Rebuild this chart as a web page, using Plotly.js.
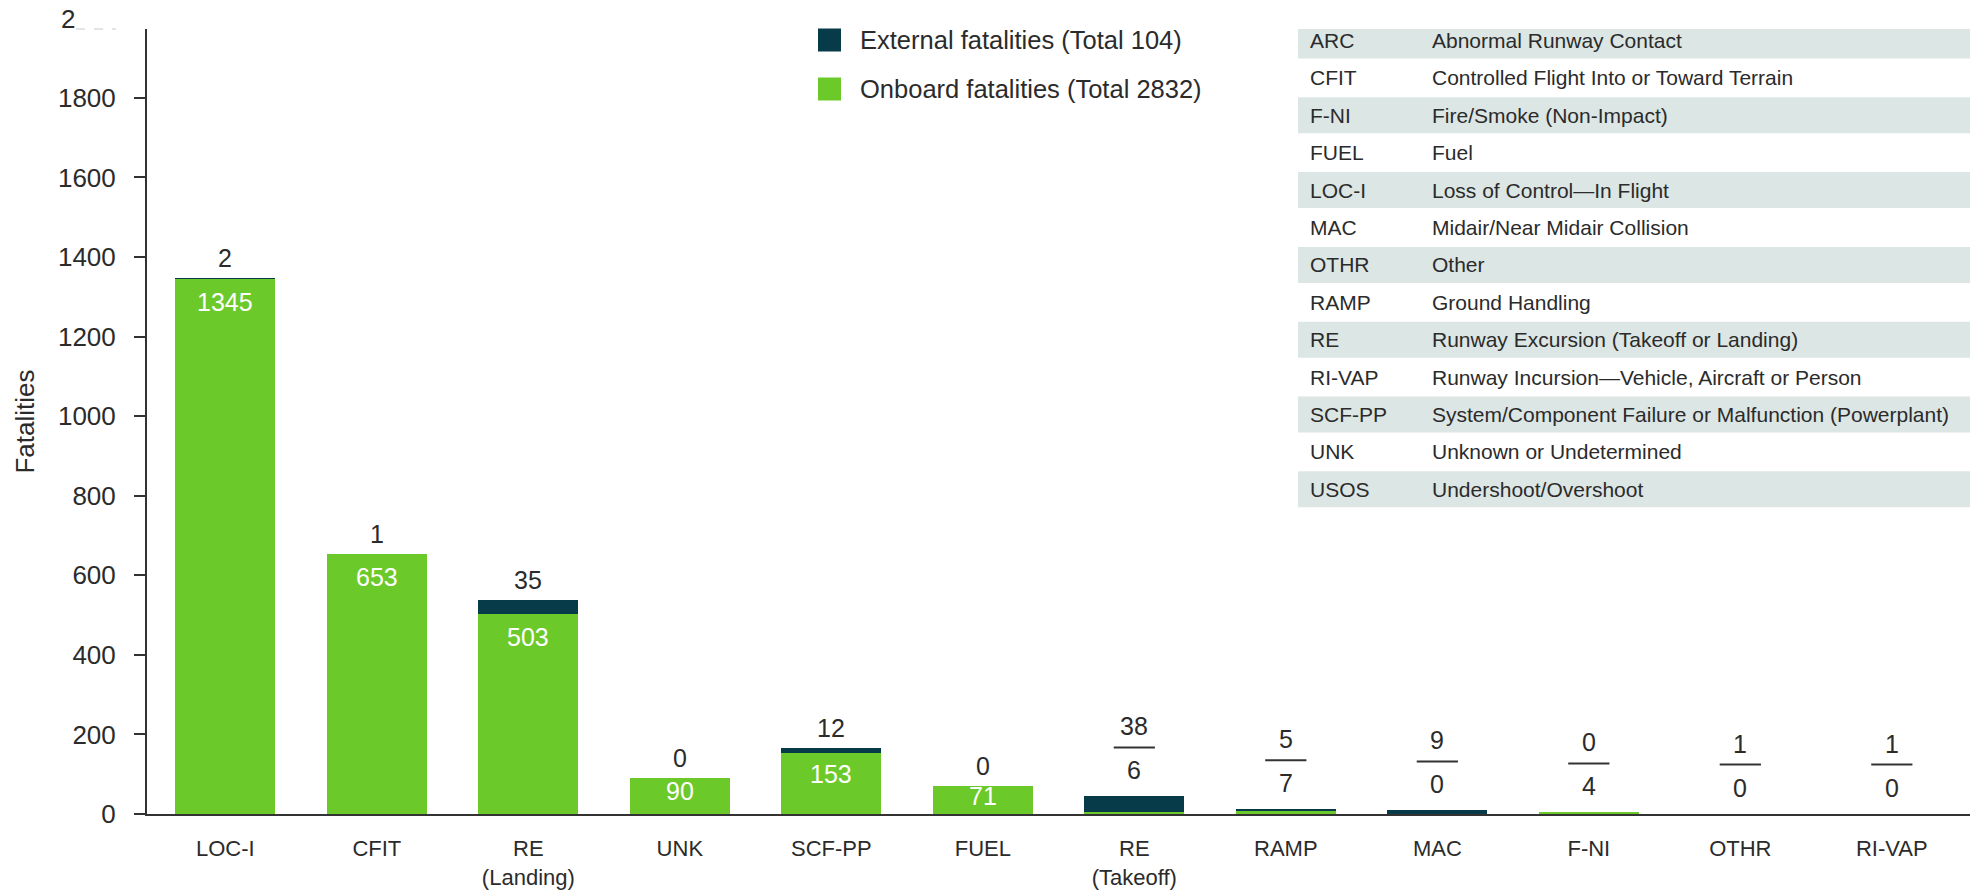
<!DOCTYPE html>
<html>
<head>
<meta charset="utf-8">
<script src="https://cdn.plot.ly/plotly-3.0.1.min.js"></script>
<style>
  html, body { margin: 0; padding: 0; background: #ffffff; }
  #chart { width: 1970px; height: 892px; }
</style>
</head>
<body>
<div id="chart"></div>
<script>
// ---------------- data ----------------
const categories = ["LOC-I", "CFIT", "RE<br>(Landing)", "UNK", "SCF-PP", "FUEL",
                    "RE<br>(Takeoff)", "RAMP", "MAC", "F-NI", "OTHR", "RI-VAP"];
const onboard  = [1345, 653, 503, 90, 153, 71, 6, 7, 0, 4, 0, 0];
const external = [2, 1, 35, 0, 12, 0, 38, 5, 9, 0, 1, 1];
const yTicks = [0, 200, 400, 600, 800, 1000, 1200, 1400, 1600, 1800];
const legendLabels = ["External fatalities (Total 104)", "Onboard fatalities (Total 2832)"];
const abbrevs = ["ARC", "CFIT", "F-NI", "FUEL", "LOC-I", "MAC", "OTHR", "RAMP", "RE",
                 "RI-VAP", "SCF-PP", "UNK", "USOS"];
const descriptions = [
  "Abnormal Runway Contact",
  "Controlled Flight Into or Toward Terrain",
  "Fire/Smoke (Non-Impact)",
  "Fuel",
  "Loss of Control\u2014In Flight",
  "Midair/Near Midair Collision",
  "Other",
  "Ground Handling",
  "Runway Excursion (Takeoff or Landing)",
  "Runway Incursion\u2014Vehicle, Aircraft or Person",
  "System/Component Failure or Malfunction (Powerplant)",
  "Unknown or Undetermined",
  "Undershoot/Overshoot"
];

// ---------------- styling ----------------
const GREEN = "#6cc92a";
const DARK = "#083b4a";
const TXT = "#2b2b2b";
const FONT = "Liberation Sans, Arial, Helvetica, sans-serif";

const L = 147, T = 29, W = 1823, H = 785;
const Y_MAX = 1973;
const pxX = p => (p - L) / W;
const pxY = p => (T + H - p) / H;
const unitPx = H / Y_MAX;

const traces = [
  { type: "bar", name: legendLabels[1], x: categories, y: onboard,
    marker: { color: GREEN, line: { width: 0 } }, width: 0.66,
    hoverinfo: "skip", showlegend: false },
  { type: "bar", name: legendLabels[0], x: categories, y: external,
    marker: { color: DARK, line: { width: 0 } }, width: 0.66,
    hoverinfo: "skip", showlegend: false }
];

const annotations = [];
const shapes = [];

// value labels
categories.forEach((c, i) => {
  const total = onboard[i] + external[i];
  if (onboard[i] >= 50) {
    const hpx = onboard[i] * unitPx;
    const off = Math.min(23, hpx * 0.35);
    annotations.push({ xref: "x", yref: "y", x: i, y: onboard[i], yshift: -off,
      text: String(onboard[i]), showarrow: false, yanchor: "middle",
      font: { family: FONT, size: 25, color: "#ffffff" } });
    annotations.push({ xref: "x", yref: "y", x: i, y: total, yshift: 20,
      text: String(external[i]), showarrow: false, yanchor: "middle",
      font: { family: FONT, size: 25, color: TXT } });
  } else {
    annotations.push({ xref: "x", yref: "y", x: i, y: total, yshift: 70,
      text: String(external[i]), showarrow: false, yanchor: "middle",
      font: { family: FONT, size: 25, color: TXT } });
    annotations.push({ xref: "x", yref: "y", x: i, y: total, yshift: 26,
      text: String(onboard[i]), showarrow: false, yanchor: "middle",
      font: { family: FONT, size: 25, color: TXT } });
    shapes.push({ type: "line", xref: "x", yref: "y", ysizemode: "pixel",
      yanchor: total, x0: i - 0.136, x1: i + 0.136, y0: 49, y1: 49,
      line: { color: "#333333", width: 2 } });
  }
});

// manual legend
const legendColors = [DARK, GREEN];
legendLabels.forEach((lab, k) => {
  const cy = 40 + k * 49;
  shapes.push({ type: "rect", xref: "paper", yref: "paper", layer: "above",
    x0: pxX(818), x1: pxX(841), y0: pxY(cy + 11.5), y1: pxY(cy - 11.5),
    fillcolor: legendColors[k], line: { width: 0 } });
  annotations.push({ xref: "paper", yref: "paper", x: pxX(858), y: pxY(cy),
    xanchor: "left", yanchor: "middle", showarrow: false, text: lab,
    font: { family: FONT, size: 25.5, color: TXT } });
});

// abbreviation table
const rowPitch = 37.4, firstCenter = 40.5;
abbrevs.forEach((a, k) => {
  const cy = firstCenter + k * rowPitch;
  if (k % 2 === 0) {
    const top = Math.max(cy - 18, T);
    shapes.push({ type: "rect", xref: "paper", yref: "paper", layer: "below",
      x0: pxX(1298), x1: 1, y0: pxY(cy + 18), y1: pxY(top),
      fillcolor: "#dce6e4", line: { width: 0 } });
  }
  annotations.push({ xref: "paper", yref: "paper", x: pxX(1308), y: pxY(cy),
    xanchor: "left", yanchor: "middle", showarrow: false, text: a,
    font: { family: FONT, size: 21, color: TXT } });
  annotations.push({ xref: "paper", yref: "paper", x: pxX(1430), y: pxY(cy),
    xanchor: "left", yanchor: "middle", showarrow: false, text: descriptions[k],
    font: { family: FONT, size: 21, color: TXT } });
});

// partially hidden top tick label ("2000" cut off in the source)
annotations.push({ xref: "paper", yref: "paper", x: pxX(59), y: pxY(19), xanchor: "left",
  yanchor: "middle", showarrow: false, text: "2",
  font: { family: FONT, size: 26, color: TXT } });
shapes.push({ type: "line", xref: "paper", yref: "paper", x0: pxX(76), x1: pxX(116),
  y0: pxY(29), y1: pxY(29), line: { color: "#c8c8c8", width: 1, dash: "dash" } });

const layout = {
  width: 1970, height: 892,
  margin: { l: L, r: 0, t: T, b: 892 - T - H, pad: 0 },
  paper_bgcolor: "#ffffff", plot_bgcolor: "#ffffff",
  barmode: "stack",
  showlegend: false,
  font: { family: FONT, color: TXT },
  xaxis: {
    type: "category", range: [-0.517, 11.516], fixedrange: true,
    showline: true, linecolor: "#333333", linewidth: 2,
    ticks: "", showgrid: false, zeroline: false,
    tickfont: { family: FONT, size: 22, color: TXT },
    ticklabelstandoff: 14, automargin: false
  },
  yaxis: {
    range: [0, Y_MAX], tickvals: yTicks, ticktext: yTicks.map(String), fixedrange: true,
    showline: true, linecolor: "#333333", linewidth: 2,
    ticks: "outside", ticklen: 11, tickwidth: 2, tickcolor: "#333333",
    showgrid: false, zeroline: false,
    tickfont: { family: FONT, size: 26, color: TXT },
    ticklabelstandoff: 13, automargin: false,
    title: { text: "Fatalities", font: { family: FONT, size: 26, color: TXT }, standoff: 16 }
  },
  annotations: annotations,
  shapes: shapes
};

Plotly.newPlot("chart", traces, layout, { staticPlot: true, displayModeBar: false });
</script>
</body>
</html>
